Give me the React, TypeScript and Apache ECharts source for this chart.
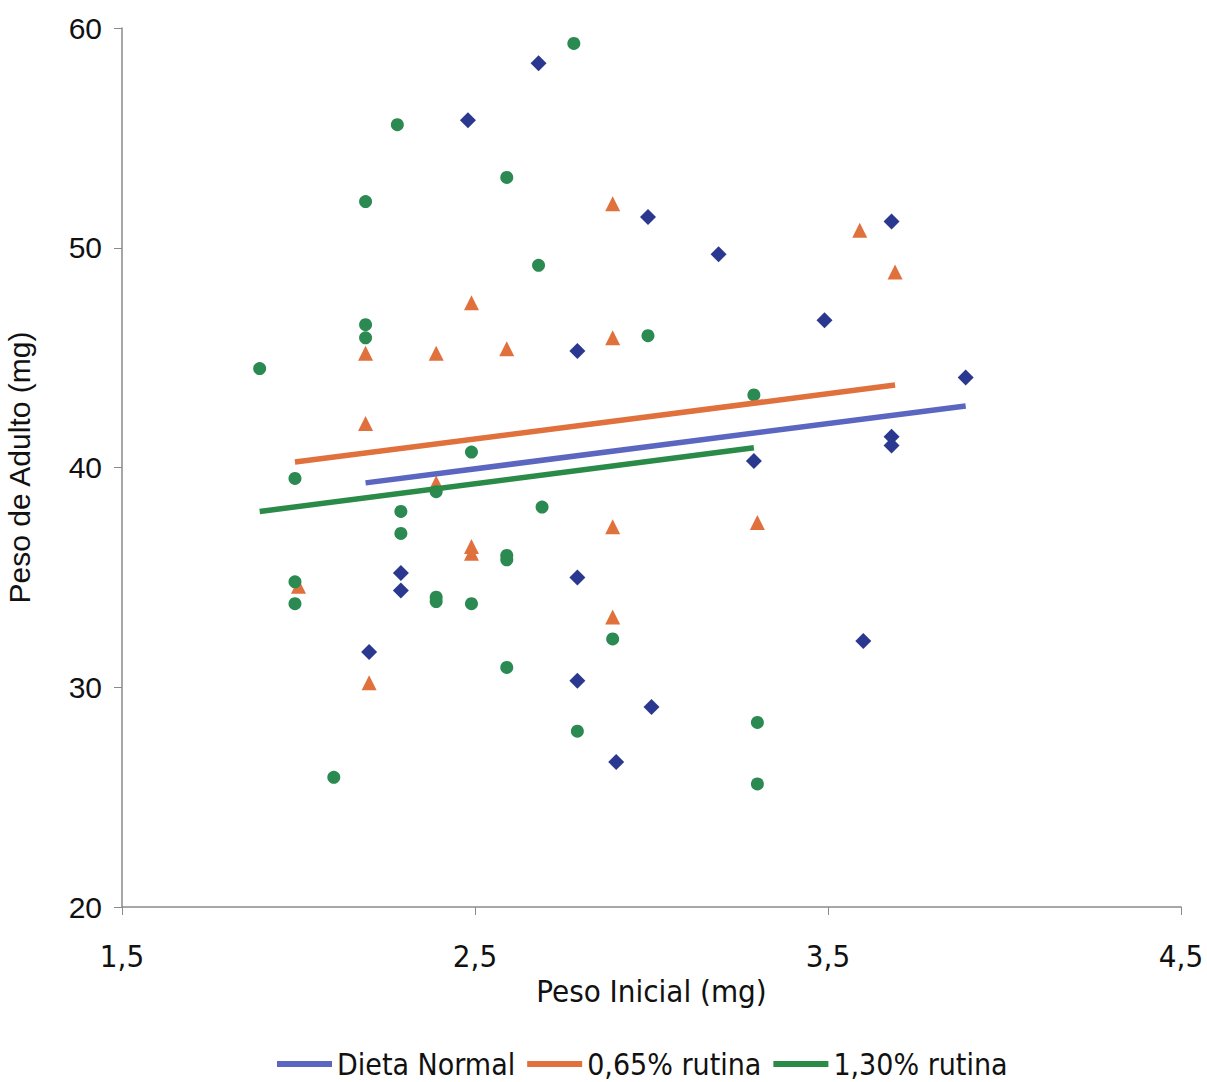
import React, { useEffect, useRef } from "react";
import * as echarts from "echarts";

// Peso inicial (mg) / peso de adulto (mg) per diet group
const normalX = [2.68, 2.48, 2.99, 3.19, 3.68, 3.49, 2.79, 3.89, 3.68, 3.68, 3.29, 2.29, 2.29, 2.79, 2.2, 2.79, 3.0, 2.9, 3.6];
const normalY = [58.4, 55.8, 51.4, 49.7, 51.2, 46.7, 45.3, 44.1, 41.4, 41.0, 40.3, 35.2, 34.4, 35.0, 31.6, 30.3, 29.1, 26.6, 32.1];

const rut065X = [2.89, 2.49, 3.59, 3.69, 2.89, 2.19, 2.39, 2.59, 2.19, 2.39, 2.89, 2.49, 2.49, 2.0, 2.2, 2.89, 3.3];
const rut065Y = [52.0, 47.5, 50.8, 48.9, 45.9, 45.2, 45.2, 45.4, 42.0, 39.3, 37.3, 36.4, 36.1, 34.6, 30.2, 33.2, 37.5];

const rut130X = [2.78, 2.28, 2.59, 2.19, 2.68, 2.99, 3.29, 2.19, 2.19, 1.89, 2.49, 1.99, 2.39, 2.29, 2.69, 2.29, 2.59, 2.59, 1.99, 2.39, 2.39, 1.99, 2.49, 2.59, 2.89, 2.79, 2.1, 3.3, 3.3];
const rut130Y = [59.3, 55.6, 53.2, 52.1, 49.2, 46.0, 43.3, 46.5, 45.9, 44.5, 40.7, 39.5, 38.9, 38.0, 38.2, 37.0, 36.0, 35.8, 34.8, 34.1, 33.9, 33.8, 33.8, 30.9, 32.2, 28.0, 25.9, 28.4, 25.6];

// Linear trend lines: [x, y] at both ends
const trendNormal = [[2.19, 39.3], [3.89, 42.8]];
const trend065 = [[1.99, 40.25], [3.69, 43.75]];
const trend130 = [[1.89, 38.0], [3.29, 40.9]];

const seriesNames = ["Dieta Normal", "0,65% rutina", "1,30% rutina"];

const xTicks = { min: 1.5, max: 4.5, step: 1 };
const yTicks = { min: 20, max: 60, step: 10 };

const zip = (xs: number[], ys: number[]) => xs.map((x, i) => [x, ys[i]]);

export default function App() {
  const ref = useRef<HTMLDivElement>(null);

  useEffect(() => {
    if (!ref.current) return;
    const chart = echarts.init(ref.current, null, { renderer: "svg" });

    const markerBlue = "#2b3890";
    const markerOrange = "#e0703c";
    const markerGreen = "#2a8a52";
    const lineBlue = "#5a66c0";
    const lineOrange = "#e0703c";
    const lineGreen = "#2a8a48";
    const narrow = "Liberation Sans Narrow, Arial Narrow, DejaVu Sans Condensed, sans-serif";
    const regular = "Liberation Sans, Arial, sans-serif";

    chart.setOption({
      animation: false,
      backgroundColor: "#ffffff",
      grid: {
        left: 122,
        right: 26,
        top: 28,
        bottom: 175,
        containLabel: false,
        outerBoundsMode: "none",
      },
      legend: {
        data: seriesNames,
        top: 1044,
        left: 272,
        icon: "rect",
        itemWidth: 55,
        itemHeight: 6,
        itemGap: 12,
        textStyle: { fontFamily: narrow, fontSize: 30, lineHeight: 30, color: "#111" },
      },
      xAxis: {
        type: "value",
        min: xTicks.min,
        max: xTicks.max,
        interval: xTicks.step,
        name: "Peso Inicial (mg)",
        nameLocation: "middle",
        nameGap: 60,
        nameTextStyle: { fontFamily: narrow, fontSize: 31, color: "#111" },
        axisLine: { lineStyle: { color: "#8a8a8a", width: 1.5 } },
        axisTick: { show: true, length: 8, lineStyle: { color: "#8a8a8a" } },
        axisLabel: {
          margin: 33,
          fontFamily: narrow,
          fontSize: 31,
          color: "#111",
          formatter: (v: number) => v.toFixed(1).replace(".", ","),
        },
        splitLine: { show: false },
      },
      yAxis: {
        type: "value",
        min: yTicks.min,
        max: yTicks.max,
        interval: yTicks.step,
        name: "Peso de Adulto (mg)",
        nameLocation: "middle",
        nameGap: 88,
        nameRotate: 90,
        nameTextStyle: { fontFamily: regular, fontSize: 30, color: "#111" },
        axisLine: { show: true, lineStyle: { color: "#8a8a8a", width: 1.5 } },
        axisTick: { show: true, length: 8, lineStyle: { color: "#8a8a8a" } },
        axisLabel: { margin: 20, fontFamily: regular, fontSize: 30, color: "#111" },
        splitLine: { show: false },
      },
      series: [
        {
          name: "pts-normal",
          type: "scatter",
          symbol: "diamond",
          symbolSize: 16,
          itemStyle: { color: markerBlue, opacity: 1 },
          data: zip(normalX, normalY),
          z: 2,
        },
        {
          name: "pts-065",
          type: "scatter",
          symbol: "triangle",
          symbolSize: 15,
          itemStyle: { color: markerOrange, opacity: 1 },
          data: zip(rut065X, rut065Y),
          z: 2,
        },
        {
          name: "pts-130",
          type: "scatter",
          symbol: "circle",
          symbolSize: 13,
          itemStyle: { color: markerGreen, opacity: 1 },
          data: zip(rut130X, rut130Y),
          z: 2,
        },
        {
          name: seriesNames[0],
          type: "line",
          showSymbol: false,
          symbol: "none",
          lineStyle: { color: lineBlue, width: 5.5 },
          itemStyle: { color: lineBlue },
          data: trendNormal,
          z: 3,
        },
        {
          name: seriesNames[1],
          type: "line",
          showSymbol: false,
          symbol: "none",
          lineStyle: { color: lineOrange, width: 5.5 },
          itemStyle: { color: lineOrange },
          data: trend065,
          z: 3,
        },
        {
          name: seriesNames[2],
          type: "line",
          showSymbol: false,
          symbol: "none",
          lineStyle: { color: lineGreen, width: 5.5 },
          itemStyle: { color: lineGreen },
          data: trend130,
          z: 3,
        },
      ],
    });

    return () => chart.dispose();
  }, []);

  return <div ref={ref} style={{ width: 1207, height: 1082, position: "absolute", left: 0, top: 0 }} />;
}
